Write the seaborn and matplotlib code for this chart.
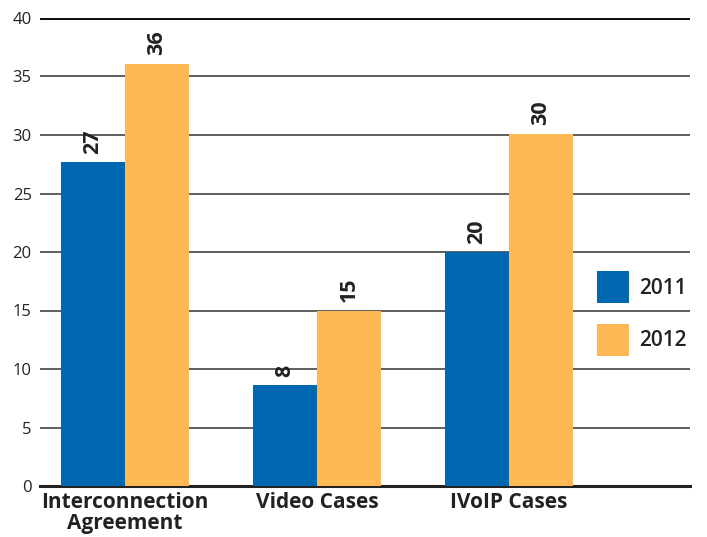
import matplotlib
matplotlib.use("Agg")
import matplotlib.pyplot as plt
import seaborn as sns
import pandas as pd

categories = ["Interconnection\nAgreement", "Video Cases", "IVoIP Cases"]
years = ["2011", "2012"]
values_2011 = [27.7, 8.6, 20.0]
values_2012 = [36.1, 15.0, 30.1]
labels_2011 = ["27", "8", "20"]
labels_2012 = ["36", "15", "30"]
y_ticks = [0, 5, 10, 15, 20, 25, 30, 35, 40]

colors = ["#0067B1", "#FDBA54"]

df = pd.DataFrame({
    "category": categories * 2,
    "year": [years[0]] * 3 + [years[1]] * 3,
    "value": values_2011 + values_2012,
})

sns.set_style("white")
plt.rcParams["font.family"] = ["Open Sans", "DejaVu Sans"]

fig = plt.figure(figsize=(7.07, 5.37), dpi=100)
ax = fig.add_axes([40 / 707, 51 / 537, 650 / 707, 468 / 537])

sns.barplot(data=df, x="category", y="value", hue="year", palette=colors,
            width=0.667, saturation=1, ax=ax, zorder=3, linewidth=0)

ax.set_xlim(-0.443, 2.943)
ax.set_ylim(0, 40)
ax.set_yticks(y_ticks)
ax.set_yticklabels([str(t) for t in y_ticks], fontsize=12, color="#222222")
ax.tick_params(axis="y", length=0, pad=6)
ax.tick_params(axis="x", length=0, pad=4)
for lbl in ax.get_xticklabels():
    lbl.set_fontsize(15)
    lbl.set_fontweight("bold")
    lbl.set_color("#222222")
    lbl.set_linespacing(1.05)
ax.set_xlabel("")
ax.set_ylabel("")

for s in ["top", "right", "left"]:
    ax.spines[s].set_visible(False)
ax.spines["bottom"].set_linewidth(2.2)
ax.spines["bottom"].set_color("#222222")

for t in y_ticks[1:]:
    lw = 2.2 if t == 40 else 1.1
    col = "#111111" if t == 40 else "#333333"
    ax.axhline(t, color=col, linewidth=lw, zorder=1)

for cont, labs in zip(ax.containers, [labels_2011, labels_2012]):
    ax.bar_label(cont, labels=labs, rotation=90, padding=6, fontsize=15.5,
                 fontweight="bold", color="#222222")

handles, _ = ax.get_legend_handles_labels()
leg = ax.legend(handles, years, loc="upper left",
                bbox_to_anchor=(597 / 707, 1 - 271 / 537),
                bbox_transform=fig.transFigure, frameon=False,
                fontsize=15, handlelength=1.53, handleheight=1.98,
                handletextpad=0.5, labelspacing=1.0, borderpad=0.0,
                borderaxespad=0.0)
for txt in leg.get_texts():
    txt.set_color("#222222")
    txt.set_fontweight("semibold")

fig.savefig("out.png", dpi=100)
